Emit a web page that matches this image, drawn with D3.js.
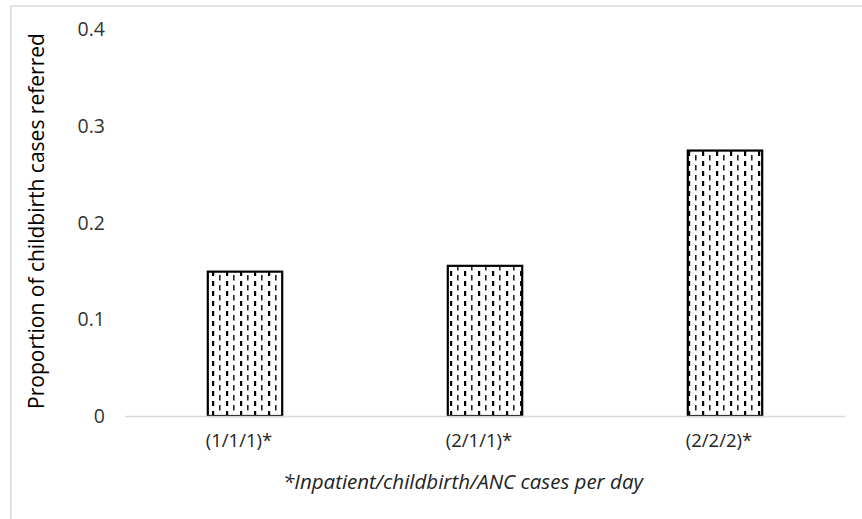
<!DOCTYPE html>
<html><head><meta charset="utf-8">
<script src="https://cdn.jsdelivr.net/npm/d3@7"></script>
<style>body{margin:0;background:#fff}svg{display:block}</style>
</head><body>
<script>
const categories = ["(1/1/1)*", "(2/1/1)*", "(2/2/2)*"];
const values = [0.149, 0.155, 0.274];
const yTicks = [0, 0.1, 0.2, 0.3, 0.4];
const yTitle = "Proportion of childbirth cases referred";
const xNote = "*Inpatient/childbirth/ANC cases per day";

const W = 862, H = 519;
const svg = d3.select("body").append("svg").attr("width", W).attr("height", H);
const font = "'Open Sans', sans-serif";

const defs = svg.append("defs");
const pat = defs.append("pattern").attr("id","dv").attr("patternUnits","userSpaceOnUse")
  .attr("width",14).attr("height",10);
pat.append("rect").attr("width",14).attr("height",10).attr("fill","#fff");
pat.append("rect").attr("x",2).attr("y",1).attr("width",2.2).attr("height",5).attr("fill","#000");
pat.append("rect").attr("x",9).attr("y",5).attr("width",1.6).attr("height",5).attr("fill","#222");
pat.append("rect").attr("x",9).attr("y",0).attr("width",1.6).attr("height",0.5).attr("fill","#222");

svg.append("rect").attr("x",11).attr("y",6).attr("width",W).attr("height",H)
  .attr("fill","none").attr("stroke","#d9d9d9").attr("stroke-width",1.5);

const x = d3.scaleBand().domain(categories).range([125, 845]).paddingInner(0.69).paddingOuter(0.345);
const y = d3.scaleLinear().domain([0, 0.4]).range([416, 28.5]);

const yAxis = d3.axisLeft(y).tickValues(yTicks).tickFormat(d => d === 0 ? "0" : d3.format(".1f")(d)).tickSize(0).tickPadding(0);
const ga = svg.append("g").attr("transform","translate(105,0)").call(yAxis);
ga.select(".domain").remove();
ga.selectAll("text").attr("font-family",font).attr("font-size",19.5).attr("fill","#333").attr("dy","0.35em");

svg.selectAll("rect.bar").data(values).join("rect").attr("class","bar")
  .attr("x",(d,i)=>x(categories[i])).attr("width",x.bandwidth())
  .attr("y",d=>y(d)).attr("height",d=>y(0)-y(d))
  .attr("fill","url(#dv)").attr("stroke","#000").attr("stroke-width",2.2);

svg.append("line").attr("x1",125).attr("x2",845).attr("y1",y(0)+0.5).attr("y2",y(0)+0.5)
  .attr("stroke","#d9d9d9").attr("stroke-width",1.5);

const xAxis = d3.axisBottom(x).tickSize(0).tickPadding(0);
const gx = svg.append("g").attr("transform","translate(-6,434)").call(xAxis);
gx.select(".domain").remove();
gx.selectAll("text").attr("font-family",font).attr("font-size",18.5).attr("fill","#222");

svg.append("text").attr("x",463).attr("y",489).attr("text-anchor","middle")
  .attr("font-family",font).attr("font-size",20.5).attr("font-style","italic").attr("fill","#222").text(xNote);

svg.append("text").attr("transform","translate(44,221) rotate(-90)").attr("text-anchor","middle")
  .attr("font-family",font).attr("font-size",21).attr("fill","#000").text(yTitle);
</script>
</body></html>
